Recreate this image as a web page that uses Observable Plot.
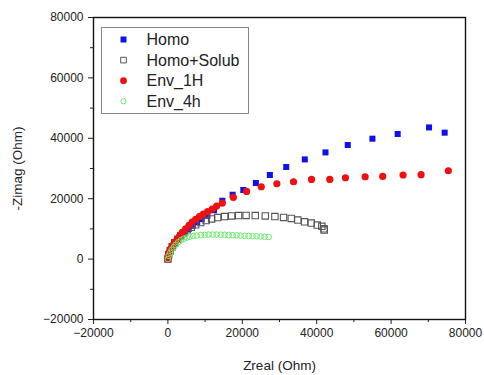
<!DOCTYPE html>
<html>
<head>
<meta charset="utf-8">
<script src="https://cdn.jsdelivr.net/npm/d3@7"></script>
<script src="https://cdn.jsdelivr.net/npm/@observablehq/plot@0.6"></script>
<style>
  html, body { margin: 0; padding: 0; background: #fff; }
  #chart { width: 484px; height: 375px; }
</style>
</head>
<body>
<div id="chart"></div>
<script>
// ---- Data ----
const seriesNames = ["Homo", "Homo+Solub", "Env_1H", "Env_4h"];

const homoX = [0, 215, 620, 1150, 1830, 2630, 3570, 4510, 5580, 6660, 7870, 9080, 10610, 12380, 14630, 17400, 20270, 23650, 27410, 31810, 36800, 42360, 48350, 54980, 61770, 70200, 74400];
const homoY = [0, 1430, 2750, 3980, 5240, 6400, 7560, 8720, 9940, 11040, 12200, 13260, 14350, 16170, 19320, 21310, 22870, 25190, 27840, 30490, 33010, 35330, 37780, 39870, 41420, 43600, 41860];

const solubX = [0, 215, 620, 1150, 1830, 2630, 3440, 4240, 5180, 6260, 7460, 8810, 10280, 11760, 13370, 15250, 17130, 19010, 21020, 23490, 26180, 28760, 31090, 33160, 34930, 36730, 38530, 40140, 41380, 41970, 42020];
const solubY = [0, 1425, 2750, 4080, 5400, 6560, 7720, 8720, 9710, 10540, 11370, 12100, 12760, 13290, 13750, 14080, 14280, 14420, 14450, 14420, 14280, 14080, 13790, 13450, 12920, 12360, 11930, 11270, 10870, 10040, 9610];

const env1hX = [0, 80, 300, 700, 1210, 1770, 2500, 3170, 3890, 4780, 5670, 6520, 7460, 8480, 9530, 10690, 11950, 13100, 14630, 17590, 21160, 25100, 29290, 33770, 38600, 43520, 47730, 53020, 57750, 63220, 68050, 75380];
const env1hY = [0, 1090, 2190, 3310, 4410, 5570, 6630, 7720, 8820, 10040, 11200, 12260, 13190, 14080, 14910, 15740, 16570, 17560, 18560, 20410, 22400, 23960, 24950, 25620, 26380, 26380, 26940, 27270, 27370, 27840, 27940, 29260];

const env4hX = [0, 215, 620, 1020, 1560, 2090, 2770, 3440, 4240, 5050, 5850, 6790, 7730, 8810, 9880, 10950, 12030, 13100, 14180, 15250, 16330, 17400, 18480, 19550, 20620, 21690, 22770, 23840, 24920, 25990, 27060];
const env4hY = [0, 1090, 2090, 3080, 3910, 4740, 5570, 6230, 6730, 7120, 7390, 7660, 7820, 7950, 8050, 8120, 8120, 8120, 8090, 8050, 7990, 7920, 7850, 7790, 7720, 7660, 7590, 7560, 7490, 7390, 7320];

const majorTicks = [-20000, 0, 20000, 40000, 60000, 80000];
const minorTicks = [-10000, 10000, 30000, 50000, 70000];

// ---- Build tables ----
const zip = (xs, ys, s) => xs.map((x, i) => ({x, y: ys[i], series: s}));
const homo = zip(homoX, homoY, seriesNames[0]);
const solub = zip(solubX, solubY, seriesNames[1]);
const env1h = zip(env1hX, env1hY, seriesNames[2]);
const env4h = zip(env4hX, env4hY, seriesNames[3]);

const fmt = d3.format("d");

const chart = Plot.plot({
  width: 484,
  height: 375,
  marginLeft: 93,
  marginRight: 19,
  marginTop: 17,
  marginBottom: 56,
  style: {fontFamily: "'Liberation Sans', Arial, sans-serif", fontSize: "12px", color: "#222", background: "#fff"},
  x: {domain: [-20000, 80000]},
  y: {domain: [-20000, 80000]},
  marks: [
    Plot.axisX({ticks: minorTicks, tickSize: 3, tickFormat: () => "", label: null}),
    Plot.axisY({ticks: minorTicks, tickSize: 3, tickFormat: () => "", label: null}),
    Plot.axisX({ticks: majorTicks, tickSize: 5, tickPadding: 4, tickFormat: fmt,
      label: "Zreal (Ohm)", labelAnchor: "center", labelOffset: 50, labelArrow: "none"}),
    Plot.axisY({ticks: majorTicks, tickSize: 5, tickPadding: 5, tickFormat: fmt,
      label: "-Zimag (Ohm)", labelAnchor: "center", labelOffset: 81, labelArrow: "none"}),
    Plot.dot(homo, {x: "x", y: "y", symbol: "square", r: 3.4, fill: "#1010ee", stroke: "none"}),
    Plot.dot(solub, {x: "x", y: "y", symbol: "square", r: 3.6, fill: "none", stroke: "#555", strokeWidth: 1.1}),
    Plot.dot(env1h, {x: "x", y: "y", symbol: "circle", r: 3.6, fill: "#ee1111", stroke: "none"}),
    Plot.dot(env4h, {x: "x", y: "y", symbol: "circle", r: 2.8, fill: "none", stroke: "#6fe86f", strokeWidth: 1}),
    Plot.frame({stroke: "#111", strokeWidth: 1.4})
  ]
});

document.getElementById("chart").appendChild(chart);

// axis label font sizes
const svg = d3.select(chart);
svg.selectAll("[aria-label='x-axis label'] text, [aria-label='y-axis label'] text, [aria-label='x-axis label'], [aria-label='y-axis label']")
  .style("font-size", "13.5px").attr("fill", "#222");

// ---- Legend (inside the frame, top-left) ----
const lg = svg.append("g").attr("class", "legend").attr("text-anchor", "start");
lg.append("rect").attr("x", 101.5).attr("y", 27.5).attr("width", 147).attr("height", 86)
  .attr("fill", "#fff").attr("stroke", "#888").attr("stroke-width", 1);
const legendStyles = [
  {sym: d3.symbolSquare, size: 36, fill: "#1010ee", stroke: "none"},
  {sym: d3.symbolSquare, size: 32, fill: "none", stroke: "#555"},
  {sym: d3.symbolCircle, size: 36, fill: "#ee1111", stroke: "none"},
  {sym: d3.symbolCircle, size: 22, fill: "none", stroke: "#6fe86f"}
];
seriesNames.forEach((name, i) => {
  const yy = 39.5 + i * 20.6;
  lg.append("path").attr("d", d3.symbol(legendStyles[i].sym, legendStyles[i].size)())
    .attr("transform", `translate(123.5,${yy})`)
    .attr("fill", legendStyles[i].fill).attr("stroke", legendStyles[i].stroke);
  lg.append("text").attr("x", 146.5).attr("y", yy).attr("dy", "0.36em")
    .attr("text-anchor", "start")
    .attr("font-size", "16px").attr("fill", "#222").text(name);
});
</script>
</body>
</html>
